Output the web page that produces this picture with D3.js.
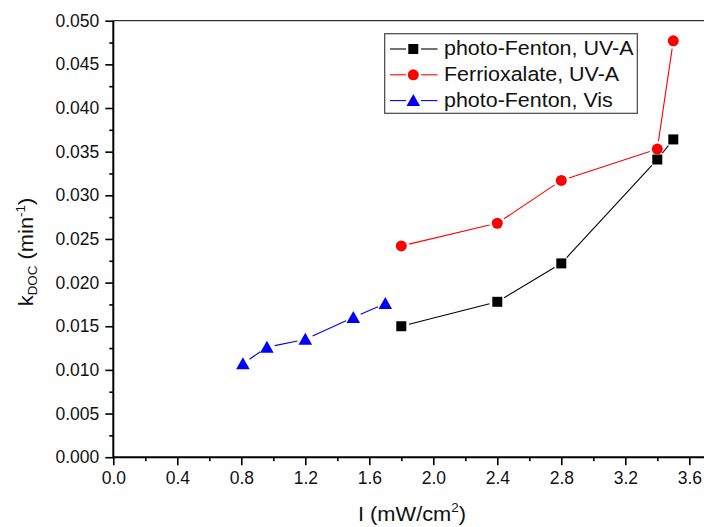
<!DOCTYPE html>
<html>
<head>
<meta charset="utf-8">
<script src="https://cdn.jsdelivr.net/npm/d3@7"></script>
<style>
  html, body { margin: 0; padding: 0; background: #fff; }
  svg { display: block; font-family: "Liberation Sans", Arial, sans-serif; }
</style>
</head>
<body>
<svg id="chart" width="704" height="527"></svg>
<script>
// Irradiance I (mW/cm²) and first-order DOC rate constants (min⁻¹)
const pfUvaI = [1.8, 2.4, 2.8, 3.4, 3.5];
const pfUvaK = [0.0150, 0.0178, 0.0222, 0.0341, 0.0364];

const ferriI = [1.8, 2.4, 2.8, 3.4, 3.5];
const ferriK = [0.0242, 0.0268, 0.0317, 0.0353, 0.0477];

const pfVisI = [0.81, 0.96, 1.2, 1.5, 1.7];
const pfVisK = [0.0107, 0.0126, 0.0135, 0.0160, 0.0176];

const seriesNames = ["photo-Fenton, UV-A", "Ferrioxalate, UV-A", "photo-Fenton, Vis"];
const seriesColors = ["#000000", "#ff0000", "#0000ff"];
const seriesSymbols = ["square", "circle", "triangle"];

const xTickValues = [0.0, 0.4, 0.8, 1.2, 1.6, 2.0, 2.4, 2.8, 3.2, 3.6];
const yTickValues = [0.000, 0.005, 0.010, 0.015, 0.020, 0.025, 0.030, 0.035, 0.040, 0.045, 0.050];

const svg = d3.select("#chart");
const plotLeft = 113.3, plotTop = 20.7, plotBottom = 457.2;

const x = d3.scaleLinear().domain([0, 3.7]).range([plotLeft, plotLeft + 160 * 3.7]);
const y = d3.scaleLinear().domain([0, 0.05]).range([plotBottom, plotTop]);

// frame line on top
svg.append("line")
  .attr("x1", plotLeft).attr("x2", 704)
  .attr("y1", plotTop).attr("y2", plotTop)
  .attr("stroke", "#333").attr("stroke-width", 1.2);

// minor ticks
const xMinor = d3.range(0.2, 3.7, 0.4);
const yMinor = d3.range(0.0025, 0.05, 0.005);

const xAxis = d3.axisBottom(x).tickValues(xTickValues).tickFormat(d3.format(".1f")).tickSize(8).tickPadding(6);
const yAxis = d3.axisLeft(y).tickValues(yTickValues).tickFormat(d3.format(".3f")).tickSize(8).tickPadding(6);

const gx = svg.append("g").attr("transform", `translate(0,${plotBottom})`);
gx.append("g").call(d3.axisBottom(x).tickValues(xMinor).tickFormat("").tickSize(4).tickSizeOuter(0));
gx.append("g").call(xAxis);
const gy = svg.append("g").attr("transform", `translate(${plotLeft},0)`);
gy.append("g").call(d3.axisLeft(y).tickValues(yMinor).tickFormat("").tickSize(4).tickSizeOuter(0));
gy.append("g").call(yAxis);

[gx, gy].forEach(g => {
  g.selectAll(".domain").remove();
  g.selectAll(".tick line").attr("stroke", "#000").attr("stroke-width", 1.6);
  g.selectAll(".tick text").attr("fill", "#111").attr("font-size", 17.5)
    .attr("font-family", "Liberation Sans, Arial, sans-serif");
});
// axis lines
svg.append("line").attr("x1", plotLeft).attr("x2", 704).attr("y1", plotBottom).attr("y2", plotBottom)
  .attr("stroke", "#000").attr("stroke-width", 2);
svg.append("line").attr("x1", plotLeft).attr("x2", plotLeft).attr("y1", plotTop).attr("y2", plotBottom + 1)
  .attr("stroke", "#000").attr("stroke-width", 2);

// axis titles (slightly widened glyphs)
const xt = svg.append("text").attr("transform", "translate(412,520.5) scale(1.12,1)")
  .attr("text-anchor", "middle").attr("font-size", 19.5).attr("fill", "#111");
xt.append("tspan").text("I (mW/cm");
xt.append("tspan").attr("font-size", 12).attr("dy", -8.5).text("2");
xt.append("tspan").attr("dy", 8.5).text(")");

const yt = svg.append("text").attr("transform", "translate(33,252) rotate(-90) scale(1.12,1)")
  .attr("text-anchor", "middle").attr("font-size", 19.5).attr("fill", "#111");
yt.append("tspan").text("k");
yt.append("tspan").attr("font-size", 12).attr("dy", 4).text("DOC");
yt.append("tspan").attr("dy", -4).text(" (min");
yt.append("tspan").attr("font-size", 12).attr("dy", -8.5).text("-1");
yt.append("tspan").attr("dy", 8.5).text(")");

// marker drawing
function marker(g, sym, color, cx, cy) {
  if (sym === "square") {
    g.append("rect").attr("x", cx - 5).attr("y", cy - 5).attr("width", 10).attr("height", 10).attr("fill", color);
  } else if (sym === "circle") {
    g.append("circle").attr("cx", cx).attr("cy", cy).attr("r", 5.5).attr("fill", color);
  } else {
    g.append("path").attr("d", `M${cx},${cy - 6.5}L${cx + 6.8},${cy + 5.5}L${cx - 6.8},${cy + 5.5}Z`).attr("fill", color);
  }
}

const gap = 8;
const series = [[pfUvaI, pfUvaK], [ferriI, ferriK], [pfVisI, pfVisK]];
series.forEach(([xs, ks], si) => {
  const g = svg.append("g");
  const pts = xs.map((v, i) => [x(v), y(ks[i])]);
  for (let i = 0; i < pts.length - 1; i++) {
    const [x1, y1] = pts[i], [x2, y2] = pts[i + 1];
    const len = Math.hypot(x2 - x1, y2 - y1);
    if (len <= 2 * gap) continue;
    const ux = (x2 - x1) / len, uy = (y2 - y1) / len;
    g.append("line")
      .attr("x1", x1 + ux * gap).attr("y1", y1 + uy * gap)
      .attr("x2", x2 - ux * gap).attr("y2", y2 - uy * gap)
      .attr("stroke", seriesColors[si]).attr("stroke-width", 1.1);
  }
  pts.forEach(([px, py]) => marker(g, seriesSymbols[si], seriesColors[si], px, py));
});

// legend
const lg = svg.append("g");
lg.append("rect").attr("x", 384.7).attr("y", 33.7).attr("width", 252.6).attr("height", 79.6)
  .attr("fill", "#fff").attr("stroke", "#444").attr("stroke-width", 1.2);
seriesNames.forEach((name, i) => {
  const cy = 49 + i * 25.8;
  lg.append("line").attr("x1", 390).attr("x2", 406).attr("y1", cy).attr("y2", cy)
    .attr("stroke", seriesColors[i]).attr("stroke-width", 1.1);
  lg.append("line").attr("x1", 421).attr("x2", 437.5).attr("y1", cy).attr("y2", cy)
    .attr("stroke", seriesColors[i]).attr("stroke-width", 1.1);
  marker(lg, seriesSymbols[i], seriesColors[i], 413.3, cy);
  lg.append("text").attr("transform", `translate(444,${cy + 6}) scale(1.1,1)`)
    .attr("font-size", 19.5).attr("fill", "#111").text(name);
});
</script>
</body>
</html>
